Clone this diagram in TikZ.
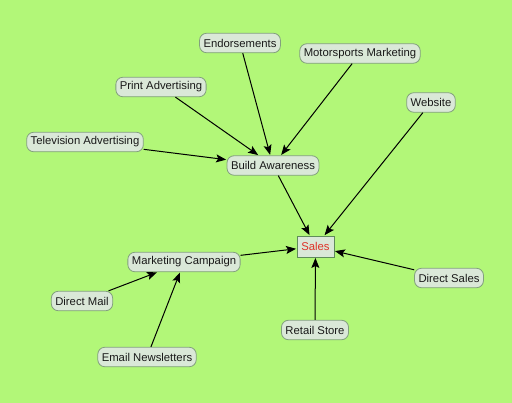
\documentclass[tikz,border=0pt]{standalone}
\usepackage{fontspec}
\setmainfont{Liberation Sans}
\usetikzlibrary{arrows.meta,shadows}
\definecolor{bg}{RGB}{178,247,120}
\definecolor{nfill}{RGB}{218,232,216}
\definecolor{nborder}{RGB}{130,160,125}
\definecolor{sborder}{RGB}{95,140,90}
\definecolor{sred}{RGB}{222,50,40}
\tikzset{
  topic/.style={draw=nborder, line width=0.8pt, fill=nfill, rounded corners=7pt,
    minimum height=19.5pt, inner xsep=4pt, inner ysep=0pt, font=\fontsize{11.3}{13}\selectfont, text=black!90},
  goal/.style={draw=sborder, line width=0.9pt, fill=nfill, minimum height=21pt, minimum width=37pt,
    inner sep=2pt, font=\fontsize{11.3}{13}\selectfont, text=sred,
    drop shadow={shadow xshift=0.8pt, shadow yshift=-0.8pt, opacity=0.35}},
  link/.style={line width=1pt, -{Stealth[length=10pt,width=8pt,inset=2pt]}, shorten >=0.5pt}
}
\begin{document}
\begin{tikzpicture}[x=1pt,y=-1pt]
\fill[bg] (0,0) rectangle (512,403);
\useasboundingbox (0,0) rectangle (512,403);
\node[topic] (end) at (240,43) {Endorsements};
\node[topic] (moto) at (360,53.5) {Motorsports Marketing};
\node[topic] (print) at (161,87) {Print Advertising};
\node[topic] (web) at (431,102.5) {Website};
\node[topic] (tv) at (85,142) {Television Advertising};
\node[topic] (ba) at (273,165.5) {Build Awareness};
\node[goal] (sales) at (315.5,246.5) {Sales};
\node[topic] (mc) at (184,262) {Marketing Campaign};
\node[topic] (ds) at (449,278) {Direct Sales};
\node[topic] (dm) at (82,301) {Direct Mail};
\node[topic] (rs) at (315,330) {Retail Store};
\node[topic] (em) at (147,357) {Email Newsletters};
\draw[link] (end) -- (ba);
\draw[link] (moto) -- (ba);
\draw[link] (print) -- (ba);
\draw[link] (tv) -- (ba);
\draw[link] (ba) -- (sales);
\draw[link] (web) -- (sales);
\draw[link] (mc) -- (sales);
\draw[link] (ds) -- (sales);
\draw[link] (rs) -- (sales);
\draw[link] (dm) -- (mc);
\draw[link] (em) -- (mc);
\end{tikzpicture}
\end{document}
